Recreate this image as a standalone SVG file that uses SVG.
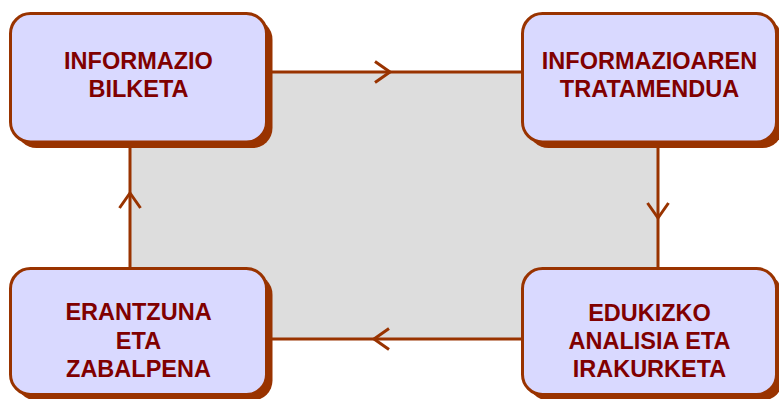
<svg xmlns="http://www.w3.org/2000/svg" width="779" height="399" viewBox="0 0 779 399">
  <style>
    .shadow { fill: #993300; }
    .box { fill: #D9D9FF; stroke: #993300; stroke-width: 3; }
    .label { font-family: "Liberation Sans", Arial, sans-serif; font-weight: bold; font-size: 23.5px; fill: #800000; text-anchor: middle; }
    .conn { fill: none; stroke: #993300; stroke-width: 3; marker-mid: url(#chev); }
  </style>
  <defs>
    <marker id="chev" markerUnits="userSpaceOnUse" viewBox="-20 -20 40 40" markerWidth="40" markerHeight="40" refX="0" refY="0" orient="auto">
      <path d="M-15,-10.5 L0,0 L-15,10.5" fill="none" stroke="#993300" stroke-width="3"/>
    </marker>
  </defs>
  <rect x="0" y="0" width="779" height="399" fill="#FFFFFF"/>
  <rect x="130" y="72" width="528" height="267" fill="#DDDDDD"/>
  <g id="connectors">
    <path class="conn" d="M266,72 L390,72 L522,72"/>
    <path class="conn" d="M658,142 L658,218 L658,268"/>
    <path class="conn" d="M522,339 L374,339 L266,339"/>
    <path class="conn" d="M130,268 L130,193 L130,142"/>
  </g>
  <g id="node-informazio-bilketa">
    <rect class="shadow" x="16.5" y="19.5" width="256" height="128.5" rx="20"/>
    <rect class="box" x="10.5" y="13.5" width="256" height="128.5" rx="20"/>
    <text class="label" x="138.5" y="69">INFORMAZIO</text>
    <text class="label" x="138.5" y="97">BILKETA</text>
  </g>
  <g id="node-informazioaren-tratamendua">
    <rect class="shadow" x="528.5" y="19.5" width="254" height="128.5" rx="20"/>
    <rect class="box" x="522.5" y="13.5" width="254" height="128.5" rx="20"/>
    <text class="label" x="649.5" y="69">INFORMAZIOAREN</text>
    <text class="label" x="649.5" y="97">TRATAMENDUA</text>
  </g>
  <g id="node-erantzuna">
    <rect class="shadow" x="16.5" y="274.5" width="256" height="126" rx="20"/>
    <rect class="box" x="10.5" y="268.5" width="256" height="126" rx="20"/>
    <text class="label" x="138.5" y="320">ERANTZUNA</text>
    <text class="label" x="138.5" y="348.5">ETA</text>
    <text class="label" x="138.5" y="377">ZABALPENA</text>
  </g>
  <g id="node-edukizko">
    <rect class="shadow" x="528.5" y="274.5" width="254" height="126" rx="20"/>
    <rect class="box" x="522.5" y="268.5" width="254" height="126" rx="20"/>
    <text class="label" x="649.5" y="321">EDUKIZKO</text>
    <text class="label" x="649.5" y="349">ANALISIA ETA</text>
    <text class="label" x="649.5" y="377">IRAKURKETA</text>
  </g>
</svg>
